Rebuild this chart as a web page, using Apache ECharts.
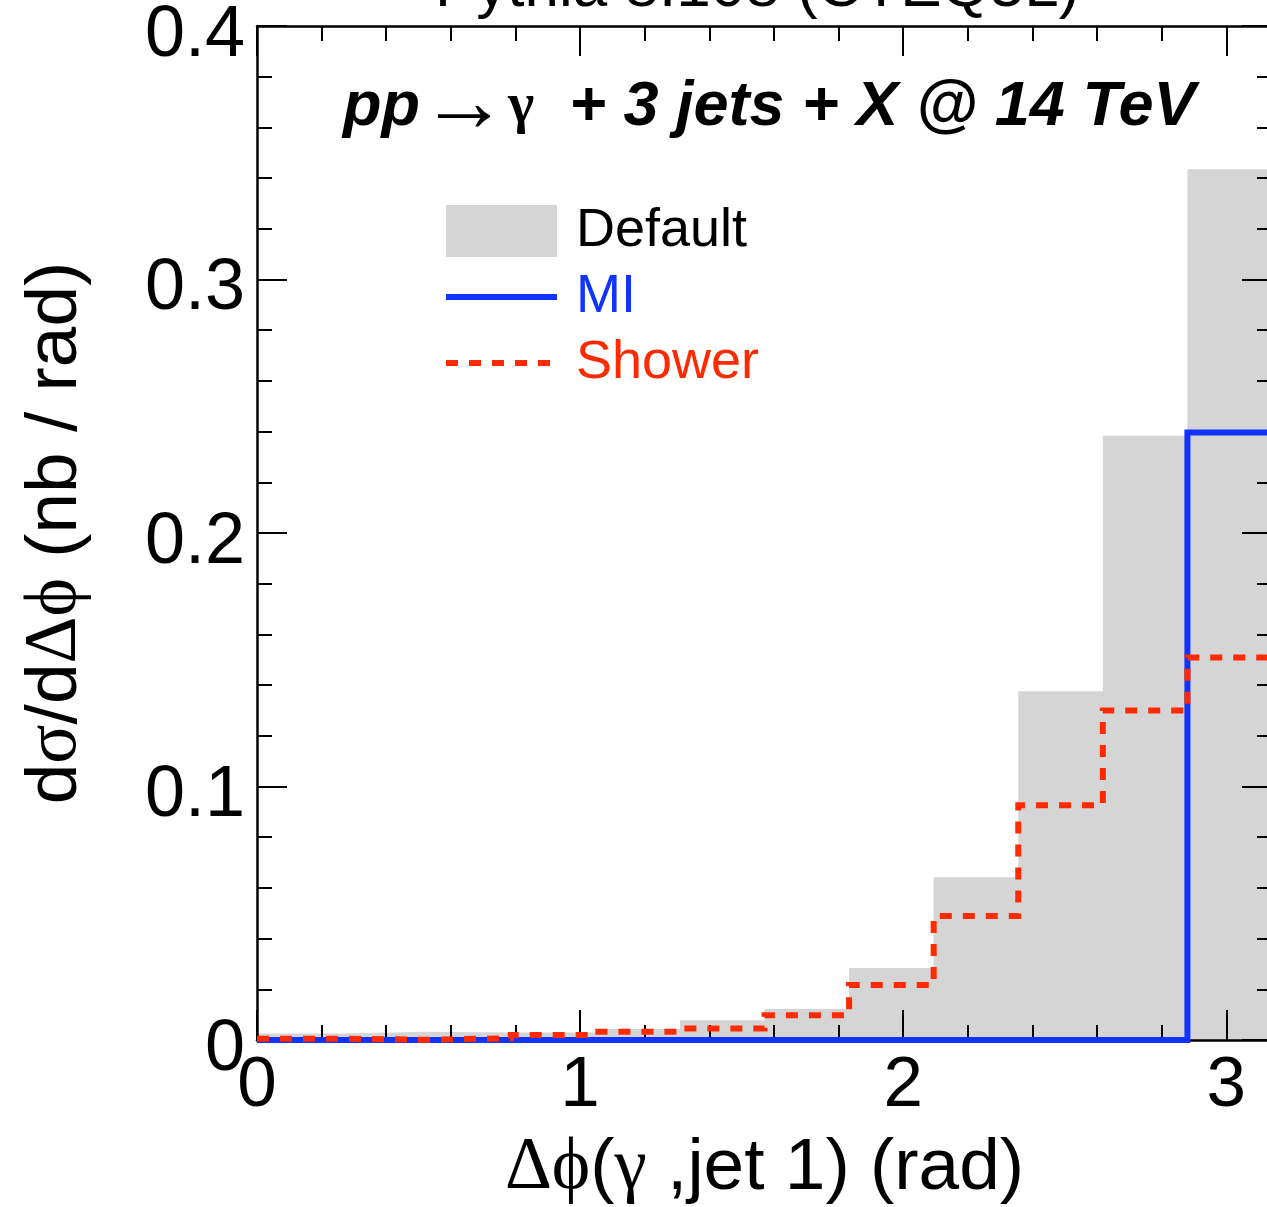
<!DOCTYPE html>
<html><head><meta charset="utf-8">
<script src="https://cdn.jsdelivr.net/npm/echarts@6/dist/echarts.min.js"></script>
<style>html,body{margin:0;padding:0;background:#fff}#c{width:1267px;height:1207px}</style>
</head><body><div id="c"></div>
<script>
// bin edges of Δφ (rad), 12 bins from 0 to π
const binEdges = [0, 0.2618, 0.5236, 0.7854, 1.0472, 1.3090, 1.5708, 1.8326, 2.0944, 2.3562, 2.6180, 2.8798, 3.1416];
// dσ/dΔφ (nb/rad) per bin
const defaultValues = [0.0026, 0.0033, 0.0030, 0.0030, 0.0043, 0.0078, 0.0122, 0.0284, 0.0642, 0.1376, 0.2384, 0.3435];
const miValues      = [0, 0, 0, 0, 0, 0, 0, 0, 0, 0, 0, 0.2396];
const showerValues  = [0.0005, 0.0001, 0.0007, 0.0020, 0.0033, 0.0045, 0.0098, 0.0217, 0.0489, 0.0926, 0.1300, 0.1509];
const xTickValues = [0, 1, 2, 3];
const yTickValues = [0, 0.1, 0.2, 0.3, 0.4];

const SANS = '"Liberation Sans", Helvetica, Arial, sans-serif';
const SERIF = '"Liberation Serif", "DejaVu Serif", serif';
const BLACK = '#000';
const GRAY = '#d5d5d5';
const BLUE = '#1133ff';
const RED = '#ff2a00';

function stepData(vals) {
  const d = vals.map((v, i) => [binEdges[i], v]);
  d.push([binEdges[binEdges.length - 1], vals[vals.length - 1]]);
  return d;
}

const xMin = binEdges[0], xMax = binEdges[binEdges.length - 1];
const tickStyle = { color: BLACK, width: 2 };

function xAx(pos, interval, len, withLine, withLabel) {
  const a = {
    type: 'value', position: pos, min: xMin, max: xMax, interval: interval, z: 2,
    splitLine: { show: false },
    axisLine: { show: withLine, onZero: false, lineStyle: { color: BLACK, width: 2.5 } },
    axisTick: { show: true, inside: true, length: len, lineStyle: tickStyle },
    axisLabel: { show: withLabel }
  };
  if (withLabel) {
    a.axisLabel = {
      show: true, color: BLACK, fontFamily: SANS, fontSize: 71, margin: 11,
      formatter: v => (xTickValues.indexOf(v) >= 0 ? String(v) : '')
    };
    a.name = '{g|Δϕ}{t|(}{g|γ}{t| ,jet 1) (rad)}';
    a.nameLocation = 'middle';
    a.nameGap = 92;
    a.nameTextStyle = {
      rich: {
        t: { fontFamily: SANS, fontSize: 73, color: BLACK },
        g: { fontFamily: SERIF, fontSize: 73, color: BLACK }
      }
    };
  }
  return a;
}

function yAx(pos, withLabel) {
  const a = {
    type: 'value', position: pos, min: 0, max: 0.4, interval: 0.1, z: 2,
    splitLine: { show: false },
    axisLine: { show: true, onZero: false, lineStyle: { color: BLACK, width: 2.5 } },
    axisTick: { show: true, inside: true, length: 30, lineStyle: tickStyle },
    minorTick: { show: true, splitNumber: 5, length: 15, lineStyle: tickStyle },
    axisLabel: { show: false }
  };
  if (withLabel) {
    a.axisLabel = {
      show: true, color: BLACK, fontFamily: SANS, fontSize: 72, margin: 12,
      verticalAlign: 'top', lineHeight: 20,
      formatter: v => {
        const t = yTickValues.find(u => Math.abs(u - v) < 1e-9);
        if (t === undefined) return '';
        return t === 0 ? '0' : t.toFixed(1);
      }
    };
    a.name = '{t|d}{g|σ}{t|/d}{g|Δϕ}{t| (nb / rad)}';
    a.nameLocation = 'middle';
    a.nameRotate = 90;
    a.nameGap = 165;
    a.nameTextStyle = {
      rich: {
        t: { fontFamily: SANS, fontSize: 73, color: BLACK },
        g: { fontFamily: SERIF, fontSize: 73, color: BLACK }
      }
    };
  }
  return a;
}

const chart = echarts.init(document.getElementById('c'), null, { renderer: 'canvas' });
chart.setOption({
  animation: false,
  backgroundColor: '#fff',
  grid: { left: 257, top: 26, right: -5, bottom: 167, containLabel: false, outerBoundsMode: 'none' },
  title: [
    {
      text: '{bi|pp}{a|→}{s|γ}{bi|  + 3 jets + X @ 14 TeV}',
      left: 343, top: 77, padding: 0,
      textStyle: {
        rich: {
          bi: { fontFamily: SANS, fontWeight: 'bold', fontStyle: 'italic', fontSize: 63, lineHeight: 62, color: BLACK },
          a: { fontFamily: SERIF, fontSize: 88, lineHeight: 62, color: BLACK },
          s: { fontFamily: SERIF, fontSize: 56, lineHeight: 62, color: BLACK }
        }
      }
    },
    {
      text: 'Pythia 8.108 (CTEQ5L)',
      left: 435, top: -42, padding: 0,
      textStyle: { fontFamily: SANS, fontWeight: 'normal', fontSize: 62, color: BLACK }
    }
  ],
  legend: {
    orient: 'vertical', left: 443, top: 204, padding: 0,
    itemWidth: 111, itemHeight: 52, itemGap: 12,
    lineStyle: { width: 6 },
    textStyle: { fontFamily: SANS, fontSize: 54, lineHeight: 42, padding: [10, 0, 0, 14] },
    data: [
      { name: 'Default', icon: 'rect', textStyle: { color: BLACK } },
      { name: 'MI', itemStyle: { opacity: 0 }, textStyle: { color: BLUE } },
      { name: 'Shower', itemStyle: { opacity: 0 }, textStyle: { color: RED } }
    ]
  },
  xAxis: [
    xAx('bottom', 1, 30, true, true),
    xAx('bottom', 0.2, 15, false, false),
    xAx('top', 1, 30, true, false),
    xAx('top', 0.2, 15, false, false)
  ],
  yAxis: [yAx('left', true), yAx('right', false)],
  series: [
    {
      name: 'Default', type: 'line', step: 'end', data: stepData(defaultValues),
      symbol: 'none', z: 1, clip: false, color: GRAY,
      itemStyle: { color: GRAY },
      lineStyle: { width: 0, opacity: 0 },
      areaStyle: { color: GRAY, opacity: 1 }
    },
    {
      name: 'MI', type: 'line', step: 'end', data: stepData(miValues),
      symbol: 'none', z: 3, clip: false, color: BLUE,
      lineStyle: { color: BLUE, width: 6, cap: 'butt', join: 'miter' }
    },
    {
      name: 'Shower', type: 'line', step: 'end', data: stepData(showerValues),
      symbol: 'none', z: 4, clip: false, color: RED,
      lineStyle: { color: RED, width: 6, type: [12, 11], cap: 'butt', join: 'miter' }
    }
  ]
});
</script>
</body></html>
